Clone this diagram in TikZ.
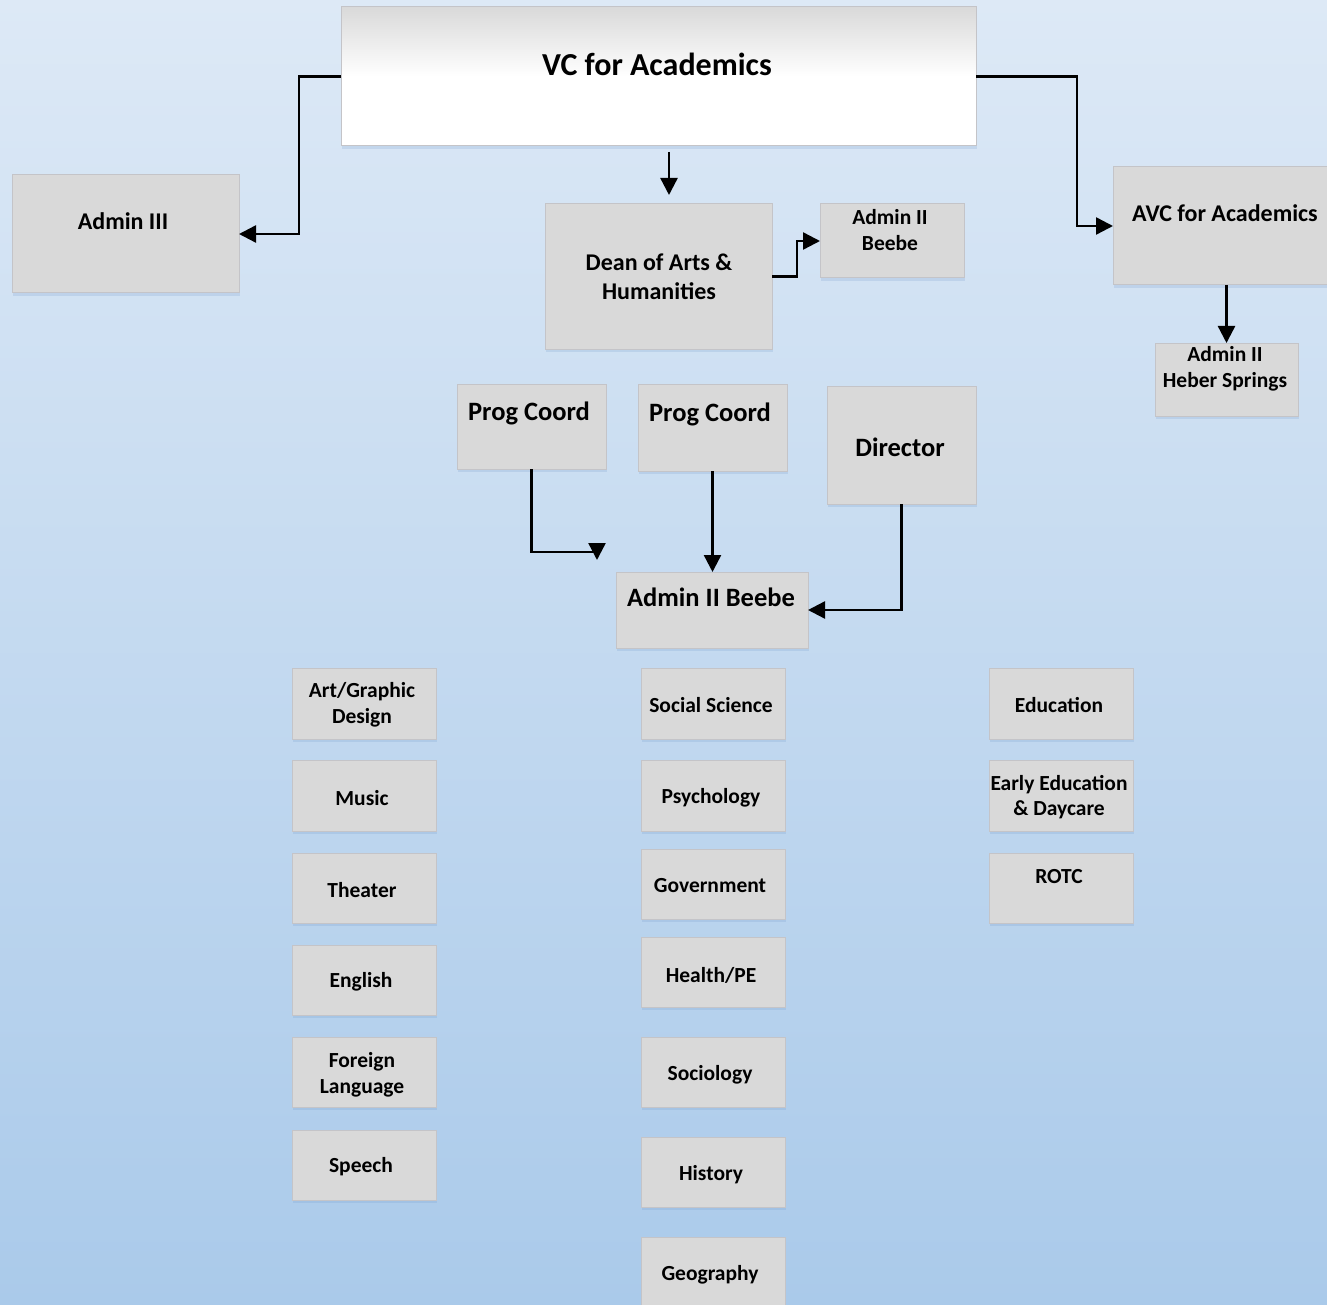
\documentclass[tikz,border=0pt]{standalone}
\usepackage{fontspec}
\setmainfont{Carlito}
\usetikzlibrary{arrows.meta,fit,shadows,calc}
\definecolor{bgtop}{RGB}{221,233,246}
\definecolor{bgbot}{RGB}{170,202,234}
\definecolor{boxfill}{RGB}{217,217,217}
\definecolor{boxline}{RGB}{196,196,200}
\definecolor{shadowc}{RGB}{110,150,200}
\begin{document}
\begin{tikzpicture}[x=1pt,y=-1pt,
  box/.style={rectangle, fill=boxfill, draw=boxline, line width=1pt, inner sep=0pt, outer sep=0pt,
    drop shadow={shadow xshift=1pt, shadow yshift=-3pt, fill=shadowc, opacity=0.2}},
  topbox/.style={box, fill=none, top color=boxfill, bottom color=white, middle color=white},
  txt/.style={font=\bfseries\fontsize{21.5}{25.5}\selectfont, align=center, inner sep=0pt, text=black},
  txtm/.style={txt, font=\bfseries\fontsize{24}{29}\selectfont},
  txtl/.style={txt, font=\bfseries\fontsize{26.5}{30}\selectfont},
  txtxl/.style={txt, font=\bfseries\fontsize{32}{36}\selectfont},
  conn/.style={line width=2.4pt, -{Triangle[length=17pt,width=17pt]}},
]
\useasboundingbox (0,0) rectangle (1327,1305);
\shade[top color=bgtop, bottom color=bgbot] (0,0) rectangle (1327,1305);

% top level
\node[topbox, fit={(341,7)(976,146)}] (vc) {};
\node[txtxl] (vct) at (657,64) {VC for Academics};

\node[box, fit={(12,175)(239,293)}] (a3) {};
\node[txtm] (a3t) at (123,221) {Admin III};

\node[box, fit={(545,204)(772,349)}] (dean) {};
\node[txtm] (deant) at (659,277) {Dean of Arts \&\\Humanities};

\node[box, fit={(820,204)(964,278)}] (a2t) {};
\node[txt] (a2tt) at (890,230) {Admin II\\Beebe};

\node[box, fit={(1113,167)(1345,285)}] (avc) {};
\node[txtm] (avct) at (1225,213) {AVC for Academics};

\node[box, fit={(1155,343)(1298,416)}] (heb) {};
\node[txt] (hebt) at (1225,369) {Admin II\\Heber Springs};

\node[box, fit={(457,384)(606,469)}] (pc1) {};
\node[txtl] (pc1t) at (529,413) {Prog Coord};
\node[box, fit={(638,384)(787,471)}] (pc2) {};
\node[txtl] (pc2t) at (710,414) {Prog Coord};
\node[box, fit={(827,386)(976,504)}] (dir) {};
\node[txtl] (dirt) at (900,447) {Director};

\node[box, fit={(616,572)(808,648)}] (a2m) {};
\node[txtl] (a2mt) at (711,597) {Admin II Beebe};

% left column
\node[box, fit={(292,668)(436,739)}] (l1) {};
\node[txt] (l1t) at (362,705) {Art/Graphic\\Design};
\node[box, fit={(292,760)(436,831)}] (l2) {};
\node[txt] (l2t) at (362,798) {Music};
\node[box, fit={(292,853)(436,923)}] (l3) {};
\node[txt] (l3t) at (362,890) {Theater};
\node[box, fit={(292,945)(436,1015)}] (l4) {};
\node[txt] (l4t) at (361,982) {English};
\node[box, fit={(292,1037)(436,1107)}] (l5) {};
\node[txt] (l5t) at (362,1075) {Foreign\\Language};
\node[box, fit={(292,1130)(436,1200)}] (l6) {};
\node[txt] (l6t) at (361,1167) {Speech};

% middle column
\node[box, fit={(641,668)(785,739)}] (m1) {};
\node[txt] (m1t) at (711,705) {Social Science};
\node[box, fit={(641,760)(785,831)}] (m2) {};
\node[txt] (m2t) at (711,798) {Psychology};
\node[box, fit={(641,849)(785,919)}] (m3) {};
\node[txt] (m3t) at (710,886) {Government};
\node[box, fit={(641,937)(785,1007)}] (m4) {};
\node[txt] (m4t) at (711,975) {Health/PE};
\node[box, fit={(641,1037)(785,1107)}] (m5) {};
\node[txt] (m5t) at (710,1075) {Sociology};
\node[box, fit={(641,1137)(785,1207)}] (m6) {};
\node[txt] (m6t) at (711,1175) {History};
\node[box, fit={(641,1237)(785,1312)}] (m7) {};
\node[txt] (m7t) at (710,1275) {Geography};

% right column
\node[box, fit={(989,668)(1133,739)}] (r1) {};
\node[txt] (r1t) at (1059,705) {Education};
\node[box, fit={(989,760)(1133,831)}] (r2) {};
\node[txt] (r2t) at (1059,797) {Early Education\\\& Daycare};
\node[box, fit={(989,853)(1133,923)}] (r3) {};
\node[txt] (r3t) at (1059,877) {ROTC};

% connectors
\draw[conn] (vc.west) -- ++(-42,0) |- (a3.east);
\draw[conn] (vc.east) -- ++(101,0) |- (avc.west);
\coordinate (vcdown) at ($(vc.south)+(10.5,6)$);
\coordinate (deanup) at ($(dean.north)+(10.5,-9)$);
\draw[conn] (vcdown) -- (deanup);
\draw[conn] (dean.east) -- ++(25,0) |- (a2t.west);
\draw[conn] (avc.south -| heb.north) -- (heb.north);
\coordinate (pc1end) at (597,560);
\draw[conn] (pc1.south) -- ++(0,83) -| (pc1end);
\draw[conn] (pc2.south) -- (pc2.south |- a2m.north);
\draw[conn] (dir.south) |- (a2m.east);
\end{tikzpicture}
\end{document}
